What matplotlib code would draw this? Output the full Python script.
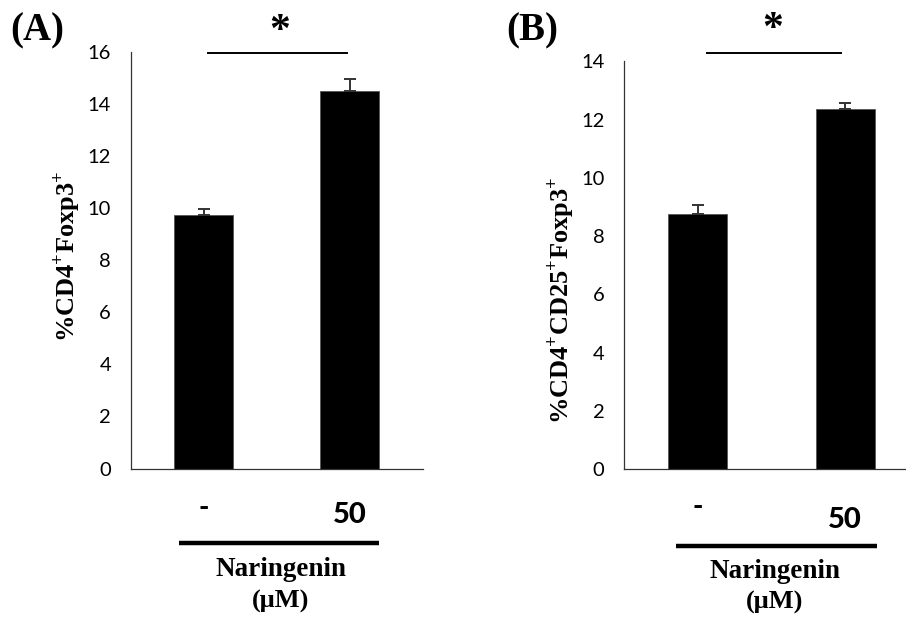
import matplotlib
matplotlib.use("Agg")
import matplotlib.pyplot as plt

# ---------------- data ----------------
groups = ["-", "50"]
foxp3_means = [9.73, 14.5]
foxp3_err = [0.22, 0.45]
cd25_means = [8.75, 12.36]
cd25_err = [0.32, 0.23]
yticks_a = [0, 2, 4, 6, 8, 10, 12, 14, 16]
yticks_b = [0, 2, 4, 6, 8, 10, 12, 14]

W, H = 906, 617
plt.rcParams['mathtext.fontset'] = 'custom'
plt.rcParams['mathtext.rm'] = 'Liberation Serif:bold'
plt.rcParams['mathtext.bf'] = 'Liberation Serif:bold'

fig = plt.figure(figsize=(W / 100, H / 100), dpi=100)


def fx(x):
    return x / W


def fy(y):
    return 1 - y / H


def make_axes(left, right, top, bottom, ymax, means, errs, yticks):
    ax = fig.add_axes([fx(left), fy(bottom), (right - left) / W, (bottom - top) / H])
    x = list(range(len(means)))
    ax.bar(x, means, width=0.4, color="black", edgecolor="#555555", linewidth=0.6, zorder=2)
    ax.errorbar(x, means, yerr=[[0] * len(errs), errs], fmt="none",
                ecolor="#333333", elinewidth=1.4, capsize=4, capthick=1.4, zorder=3)
    ax.set_xlim(-0.5, 1.5)
    ax.set_ylim(0, ymax)
    ax.set_yticks(yticks)
    ax.set_yticklabels([str(t) for t in yticks], family="Lato", fontsize=14.5)
    ax.set_xticks([])
    ax.tick_params(axis="y", length=0, pad=14)
    for s in ["top", "right"]:
        ax.spines[s].set_visible(False)
    for s in ["left", "bottom"]:
        ax.spines[s].set_color("#333333")
        ax.spines[s].set_linewidth(0.9)
    return ax


axA = make_axes(130.5, 422.5, 52, 468.5, 16, foxp3_means, foxp3_err, yticks_a)
axB = make_axes(624, 919, 61.5, 469, 14, cd25_means, cd25_err, yticks_b)

serif = "Liberation Serif"

# panel labels
fig.text(fx(10), fy(31), "(A)", family=serif, weight="bold", fontsize=28, ha="left", va="center")
fig.text(fx(506), fy(31), "(B)", family=serif, weight="bold", fontsize=28, ha="left", va="center")

# y labels
fig.text(fx(66), fy(256), r"%CD4$^{+}$Foxp3$^{+}$", family=serif, weight="bold",
         fontsize=19, rotation=90, ha="center", va="center")
fig.text(fx(561), fy(300), r"%CD4$^{+}$CD25$^{+}$Foxp3$^{+}$", family=serif, weight="bold",
         fontsize=19, rotation=90, ha="center", va="center")

# significance bars
fig.add_artist(plt.Line2D([fx(208), fx(347)], [fy(53), fy(53)], color="black", lw=1.4))
fig.add_artist(plt.Line2D([fx(707), fx(841)], [fy(53), fy(53)], color="black", lw=1.4))
fig.text(fx(280), fy(32), "*", family=serif, weight="bold", fontsize=30, ha="center", va="center")
fig.text(fx(773), fy(30), "*", family=serif, weight="bold", fontsize=30, ha="center", va="center")

# group labels below axes
for ax, dash_y, num_base, line_y, line_x, nar_y, um_y, cx in [
    (axA, 508, 523, 543, (179, 379), 569, 601, 281),
    (axB, 507, 528, 546, (676, 877), 572, 602, 775),
]:
    dash_x = ax.transData.transform((0, 0))[0]
    num_x = ax.transData.transform((1, 0))[0]
    fig.text(dash_x / W, fy(dash_y), groups[0], family="Lato", weight="black", fontsize=20,
             ha="center", va="center")
    fig.text(num_x / W, fy(num_base), groups[1], family="Lato", weight="black", fontsize=21,
             ha="center", va="baseline")
    fig.add_artist(plt.Line2D([fx(line_x[0]), fx(line_x[1])], [fy(line_y), fy(line_y)],
                              color="black", lw=3.2, solid_capstyle="butt"))
    fig.text(fx(cx), fy(nar_y), "Naringenin", family=serif, weight="bold", fontsize=19.5,
             ha="center", va="center")
    fig.text(fx(cx), fy(um_y), "(\u03bcM)", family=serif, weight="bold", fontsize=19,
             ha="center", va="center")

fig.savefig("out.png", dpi=100)
